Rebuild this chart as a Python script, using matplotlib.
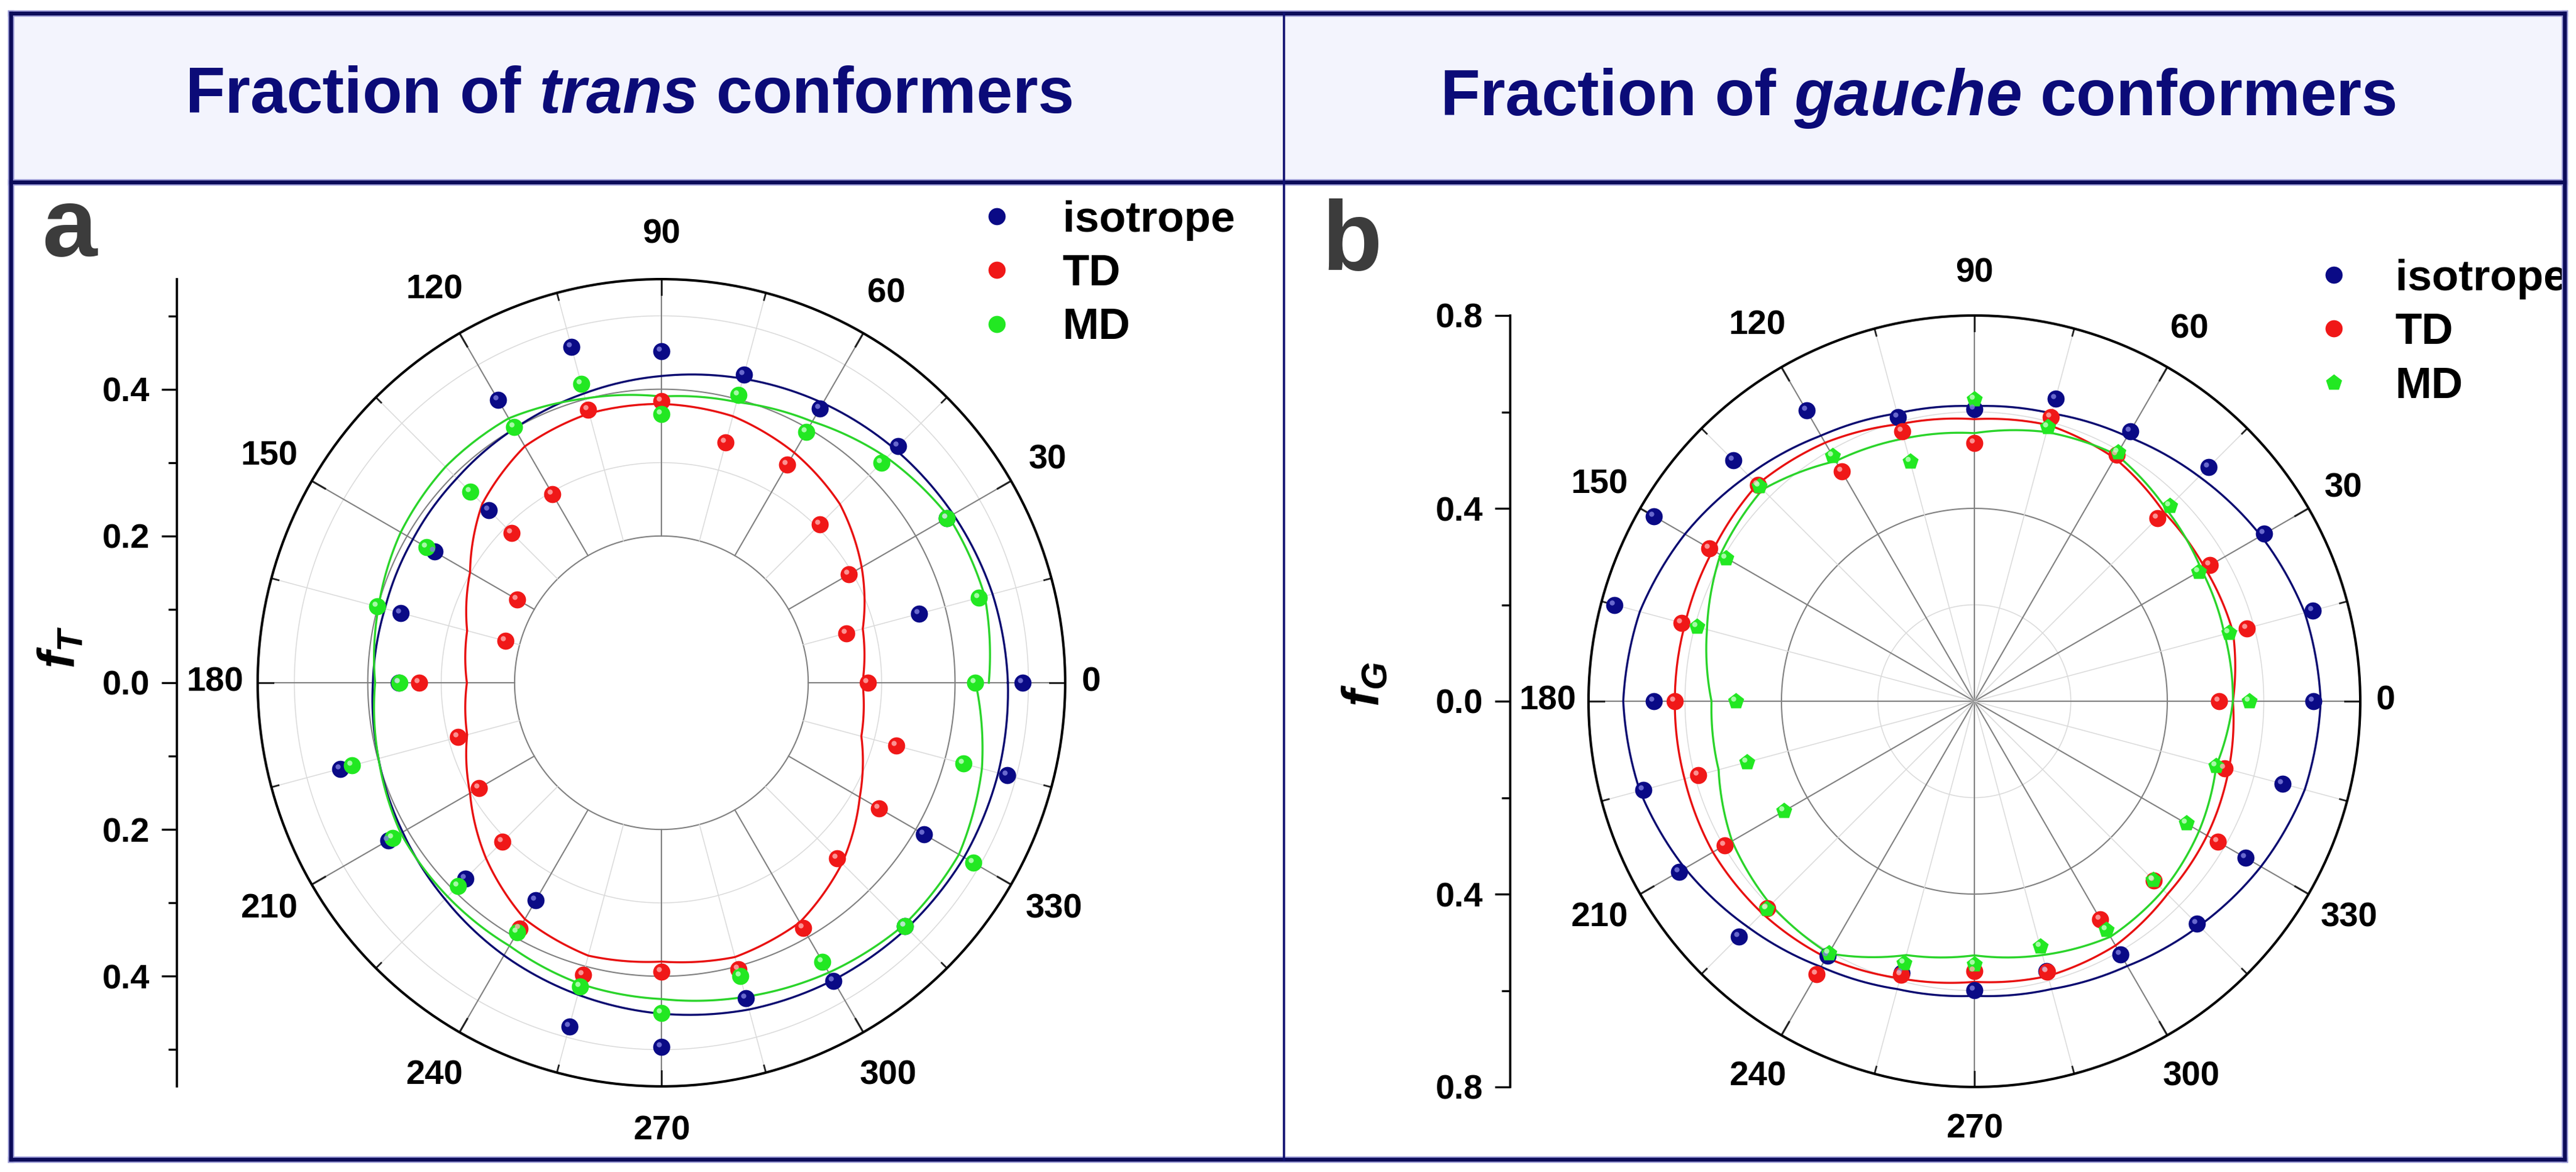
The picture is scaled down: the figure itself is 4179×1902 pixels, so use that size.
import numpy as np
import matplotlib.pyplot as plt
from matplotlib.lines import Line2D
from matplotlib.patches import Rectangle
from matplotlib.ticker import FixedLocator, FuncFormatter
from matplotlib.transforms import ScaledTranslation

plt.rcParams['font.family'] = ['Liberation Sans', 'DejaVu Sans']
plt.rcParams['font.weight'] = 'bold'
plt.rcParams['mathtext.fontset'] = 'custom'
plt.rcParams['mathtext.it'] = 'Liberation Sans:italic:bold'
plt.rcParams['mathtext.rm'] = 'Liberation Sans:bold'
plt.rcParams['mathtext.bf'] = 'Liberation Sans:bold'

W, H = 4179, 1902

# angles in degrees, one point every 15 deg
angles = [0, 15, 30, 45, 60, 75, 90, 105, 120, 135, 150, 165,
          180, 195, 210, 225, 240, 255, 270, 285, 300, 315, 330, 345]
fit_angles = angles + [360]
labels = ['isotrope', 'TD', 'MD']

# panel a: fraction of trans conformers (f_T)
a_iso = [0.492, 0.363, 0.449, 0.456, 0.431, 0.435, 0.452, 0.474, 0.445, 0.333, 0.357, 0.368,
         0.358, 0.453, 0.430, 0.378, 0.342, 0.485, 0.496, 0.445, 0.469, 0.469, 0.413, 0.488]
a_td = [0.281, 0.261, 0.295, 0.305, 0.343, 0.339, 0.384, 0.385, 0.297, 0.288, 0.227, 0.220,
        0.330, 0.287, 0.287, 0.306, 0.387, 0.412, 0.394, 0.404, 0.386, 0.339, 0.342, 0.331]
a_md = [0.427, 0.448, 0.449, 0.424, 0.395, 0.406, 0.366, 0.422, 0.402, 0.368, 0.369, 0.401,
        0.357, 0.436, 0.423, 0.392, 0.393, 0.429, 0.450, 0.414, 0.439, 0.469, 0.491, 0.426]
# fitted curves, 0..360 deg
a_iso_fit = [0.472, 0.467, 0.459, 0.450, 0.440, 0.429, 0.418, 0.408, 0.400, 0.394, 0.391, 0.390,
             0.393, 0.399, 0.407, 0.417, 0.429, 0.440, 0.451, 0.461, 0.468, 0.473, 0.476, 0.475,
             0.472]
a_td_fit = [0.274, 0.284, 0.315, 0.344, 0.362, 0.376, 0.380, 0.380, 0.372, 0.345, 0.301, 0.274,
            0.265, 0.274, 0.301, 0.338, 0.372, 0.385, 0.380, 0.387, 0.377, 0.348, 0.312, 0.282,
            0.274]
a_md_fit = [0.446, 0.456, 0.452, 0.434, 0.411, 0.396, 0.390, 0.401, 0.416, 0.416, 0.410, 0.399,
            0.390, 0.399, 0.410, 0.412, 0.414, 0.425, 0.431, 0.443, 0.456, 0.467, 0.468, 0.452,
            0.428]

# panel b: fraction of gauche conformers (f_G)
b_iso = [0.703, 0.726, 0.694, 0.687, 0.647, 0.650, 0.606, 0.610, 0.696, 0.706, 0.767, 0.772,
         0.664, 0.710, 0.707, 0.690, 0.609, 0.583, 0.599, 0.579, 0.607, 0.652, 0.650, 0.661]
b_td = [0.507, 0.585, 0.564, 0.537, 0.590, 0.610, 0.536, 0.580, 0.550, 0.635, 0.635, 0.629,
        0.621, 0.593, 0.598, 0.608, 0.654, 0.587, 0.560, 0.581, 0.522, 0.526, 0.583, 0.537]
b_md = [0.570, 0.546, 0.537, 0.573, 0.596, 0.589, 0.626, 0.514, 0.588, 0.630, 0.594, 0.596,
        0.494, 0.488, 0.456, 0.609, 0.603, 0.562, 0.546, 0.527, 0.548, 0.524, 0.507, 0.519]
b_iso_fit = [0.718, 0.709, 0.686, 0.659, 0.634, 0.618, 0.612, 0.618, 0.636, 0.663, 0.693, 0.718,
             0.728, 0.718, 0.693, 0.663, 0.636, 0.618, 0.611, 0.618, 0.634, 0.659, 0.686, 0.709,
             0.718]
b_td_fit = [0.536, 0.555, 0.552, 0.555, 0.582, 0.593, 0.585, 0.595, 0.619, 0.636, 0.626, 0.621,
            0.621, 0.622, 0.626, 0.622, 0.614, 0.595, 0.582, 0.590, 0.585, 0.566, 0.557, 0.546,
            0.536]
b_md_fit = [0.536, 0.537, 0.544, 0.563, 0.590, 0.578, 0.556, 0.564, 0.575, 0.621, 0.608, 0.574,
            0.545, 0.549, 0.580, 0.597, 0.604, 0.545, 0.527, 0.545, 0.564, 0.554, 0.538, 0.519,
            0.536]

navy = '#0b0b78'
c_dots = ['#0a0a86', '#f01818', '#22e822']
c_glow = ['#8080e0', '#ffb0b0', '#c8ffc8']
c_fit = ['#0a0a70', '#e81010', '#2ad42a']


def fig_box(cx, cy, r):
    return [(cx - r) / W, 1 - (cy + r) / H, 2 * r / W, 2 * r / H]


def polar_panel(cx, cy, rpx, rmax, inner, rings_major, rings_minor,
                series, fits, markers):
    ax = fig.add_axes(fig_box(cx, cy, rpx), projection='polar')
    ax.set_ylim(0, rmax)
    ax.set_xticks([])
    ax.set_yticks([])
    ax.grid(False)
    ax.spines['polar'].set_linewidth(2.9)
    ax.spines['polar'].set_color('black')

    ring = np.linspace(0, 2 * np.pi, 361)
    for r in rings_minor:
        ax.plot(ring, np.full_like(ring, r), color='#dadada', lw=1.1, zorder=1)
    for r in rings_major:
        ax.plot(ring, np.full_like(ring, r), color='#808080', lw=1.5, zorder=1)
    tick_major = rmax * 25 / rpx
    tick_minor = rmax * 12 / rpx
    for a in range(0, 360, 15):
        t = np.deg2rad(a)
        if a % 30 == 0:
            ax.plot([t, t], [inner, rmax], color='#808080', lw=1.5, zorder=1)
            ax.plot([t, t], [rmax - tick_major, rmax], color='#222222', lw=2.2, zorder=2)
            lab = str(a)
            k = 1.065 + 0.045 * abs(np.sin(t)) + 0.02 * (len(lab) - 1) * abs(np.cos(t))
            ax.text(t, rmax * k, lab, ha='center', va='center',
                    fontsize=40, fontweight='bold', clip_on=False)
        else:
            ax.plot([t, t], [inner, rmax], color='#dadada', lw=1.1, zorder=1)
            ax.plot([t, t], [rmax - tick_minor, rmax], color='#222222', lw=2.0, zorder=2)

    th = np.deg2rad(fit_angles)
    for fit, col in zip(fits, c_fit):
        ln, = ax.plot(th, fit, color=col, lw=2.4, zorder=3)
        # let the polar transform draw each segment along theta
        ln.get_path()._interpolation_steps = 24

    glow = ax.transData + ScaledTranslation(-0.04, 0.04, fig.dpi_scale_trans)
    handles = []
    for vals, col, gl, mk, lab in zip(series, c_dots, c_glow, markers, labels):
        h, = ax.plot(np.deg2rad(angles), vals, mk, color=col, ms=20, mec='none',
                     zorder=5, label=lab, clip_on=False)
        ax.plot(np.deg2rad(angles), vals, 'o', color=gl, ms=6, mec='none',
                alpha=0.8, zorder=6, transform=glow, clip_on=False)
        handles.append(h)
    return ax, handles


def radial_axis(x_px, cy, rpx, rmax, major, minor):
    ax = fig.add_axes([x_px / W, 1 - (cy + rpx) / H, 1 / W, 2 * rpx / H])
    ax.set_ylim(-rmax, rmax)
    ax.set_xlim(0, 1)
    for s in ['top', 'right', 'bottom']:
        ax.spines[s].set_visible(False)
    ax.spines['left'].set_linewidth(2.6)
    ax.set_xticks([])
    ax.yaxis.set_major_locator(FixedLocator(major))
    ax.yaxis.set_minor_locator(FixedLocator(minor))
    ax.yaxis.set_major_formatter(FuncFormatter(lambda v, p: f'{abs(v):.1f}'))
    ax.tick_params(axis='y', which='major', direction='out', length=18, width=2.4,
                   labelsize=40, pad=14)
    ax.tick_params(axis='y', which='minor', direction='out', length=10, width=2.4)
    ax.patch.set_visible(False)
    return ax


fig = plt.figure(figsize=(W / 100, H / 100), dpi=100)

# header band and frame
fig.add_artist(Rectangle((18 / W, 1 - 296 / H), (4161 - 18) / W, (296 - 22) / H,
                         transform=fig.transFigure, facecolor='#f3f4fd', edgecolor='none', zorder=0))
frame = dict(transform=fig.transFigure, color='#9a9ad6', lw=7.5, zorder=1)
for xs, ys in [([18, 4161], [22, 22]), ([18, 4161], [1882, 1882]), ([18, 18], [22, 1882]),
               ([4161, 4161], [22, 1882]), ([18, 4161], [296, 296])]:
    fig.add_artist(Line2D([x / W for x in xs], [1 - y / H for y in ys], **frame))
    fig.add_artist(Line2D([x / W for x in xs], [1 - y / H for y in ys],
                          transform=fig.transFigure, color='#0c0c5a', lw=4.5, zorder=2))
fig.add_artist(Line2D([2083 / W, 2083 / W], [1 - 22 / H, 1 - 1882 / H],
                      transform=fig.transFigure, color='#101070', lw=2.6, zorder=2))

fig.text(1020 / W, 1 - 183 / H, r'Fraction of $trans$ conformers', fontsize=76,
         ha='center', va='baseline', color=navy, fontweight='bold')
fig.text(3112 / W, 1 - 187 / H, r'Fraction of $gauche$ conformers', fontsize=76,
         ha='center', va='baseline', color=navy, fontweight='bold')

# panel a
ax_a, h_a = polar_panel(1073, 1108, 655, 0.55, 0.2, [0.2, 0.4], [0.3, 0.5],
                        [a_iso, a_td, a_md], [a_iso_fit, a_td_fit, a_md_fit], ['o', 'o', 'o'])
radial_axis(287, 1108, 655, 0.55, [-0.4, -0.2, 0.0, 0.2, 0.4], [-0.5, -0.3, -0.1, 0.1, 0.3, 0.5])
fig.text(113 / W, 1 - 415 / H, 'a', fontsize=115, ha='center', va='baseline', color='#3c3c3c')
fig.text(100 / W, 1 - 1050 / H, r'$f_T$', fontsize=60, rotation=90, ha='center', va='center')
ax_a.legend(handles=h_a, loc='upper left', bbox_to_anchor=(1582 / W, 1 - 325 / H),
            bbox_transform=fig.transFigure, frameon=False, fontsize=51, handlelength=1.0,
            handletextpad=1.0, labelspacing=0.3, borderpad=0, borderaxespad=0, numpoints=1)

# panel b
ax_b, h_b = polar_panel(3203, 1138, 626, 0.8, 0.0, [0.4], [0.2, 0.6],
                        [b_iso, b_td, b_md], [b_iso_fit, b_td_fit, b_md_fit], ['o', 'o', 'p'])
radial_axis(2450, 1138, 626, 0.8, [-0.8, -0.4, 0.0, 0.4, 0.8], [-0.6, -0.2, 0.2, 0.6])
fig.text(2193 / W, 1 - 437 / H, 'b', fontsize=115, ha='center', va='baseline', color='#3c3c3c')
fig.text(2215 / W, 1 - 1110 / H, r'$f_G$', fontsize=60, rotation=90, ha='center', va='center')
ax_b.legend(handles=h_b, loc='upper left', bbox_to_anchor=(3751 / W, 1 - 420 / H),
            bbox_transform=fig.transFigure, frameon=False, fontsize=51, handlelength=1.0,
            handletextpad=0.9, labelspacing=0.3, borderpad=0, borderaxespad=0, numpoints=1)

fig.savefig('out.png', dpi=100)
